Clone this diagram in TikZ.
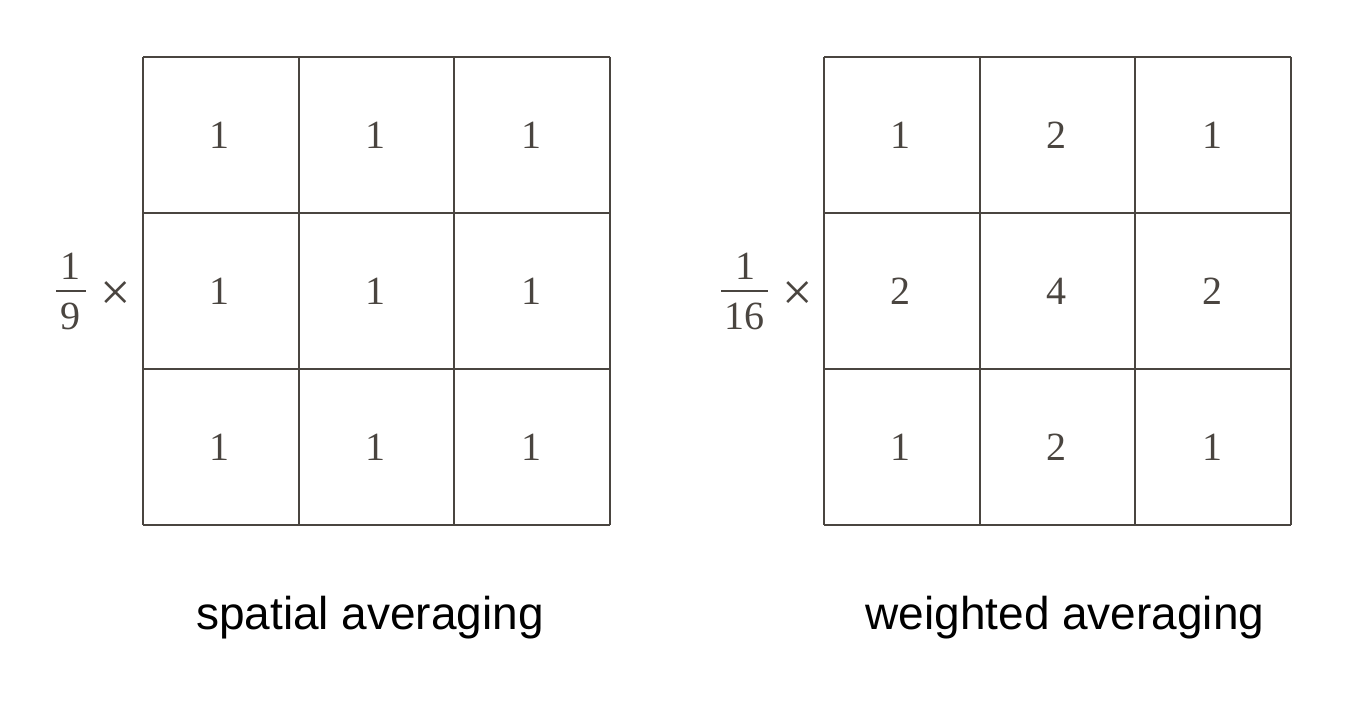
\documentclass[tikz,border=0pt]{standalone}
\usepackage{fontspec}
\setmainfont{Liberation Serif}
\newfontfamily\labelfont{Liberation Sans}
\definecolor{ink}{HTML}{4A4540}
\begin{document}
\begin{tikzpicture}[x=0.5pt,y=-0.5pt,
  cellnum/.style={font=\fontsize{20}{24}\selectfont, text=ink, inner sep=0pt},
  gridline/.style={draw=ink, line width=1pt},
  fracbar/.style={draw=ink, line width=0.9pt},
  timesnode/.style={font=\fontsize{27}{30}\selectfont, text=ink, inner sep=0pt},
  caption/.style={font=\labelfont\fontsize{23}{28}\selectfont, text=black, inner sep=0pt, anchor=base}]
\useasboundingbox (0,0) rectangle (1350,710);
% grids
\foreach \gx in {143,824}{
  \foreach \i in {0,1,2,3}{
    \draw[gridline] (\gx+\i*155.67,57) -- (\gx+\i*155.67,525);
    \draw[gridline] (\gx,57+\i*156) -- (\gx+467,57+\i*156);
  }
}
% left numbers
\foreach \r/\row in {0/{1,1,1},1/{1,1,1},2/{1,1,1}}{
  \foreach \v [count=\c from 0] in \row{
    \node[cellnum] (a\r\c) at (143+77.8+\c*155.67-1,57+78+\r*156) {\v};
  }
}
\foreach \r/\row in {0/{1,2,1},1/{2,4,2},2/{1,2,1}}{
  \foreach \v [count=\c from 0] in \row{
    \node[cellnum] (b\r\c) at (824+77.8+\c*155.67-1,57+78+\r*156) {\v};
  }
}
% factor 1/9
\node[cellnum] (na) at (71,266) {1};
\node[cellnum] (da) at (71,316.5) {9};
\coordinate (bal) at (56,291);
\coordinate (bar) at (86,291);
\draw[fracbar] (bal) -- (bar);
\node[timesnode] (xa) at (115.5,296.5) {×};
% factor 1/16
\node[cellnum] (nb) at (745,266) {1};
\node[cellnum] (db) at (744.5,316.5) {16};
\coordinate (bbl) at (721,291);
\coordinate (bbr) at (768,291);
\draw[fracbar] (bbl) -- (bbr);
\node[timesnode] (xb) at (798,296.5) {×};
% captions
\node[caption] (ca) at (370,630) {spatial averaging};
\node[caption] (cb) at (1065,630) {weighted averaging};
\end{tikzpicture}
\end{document}
